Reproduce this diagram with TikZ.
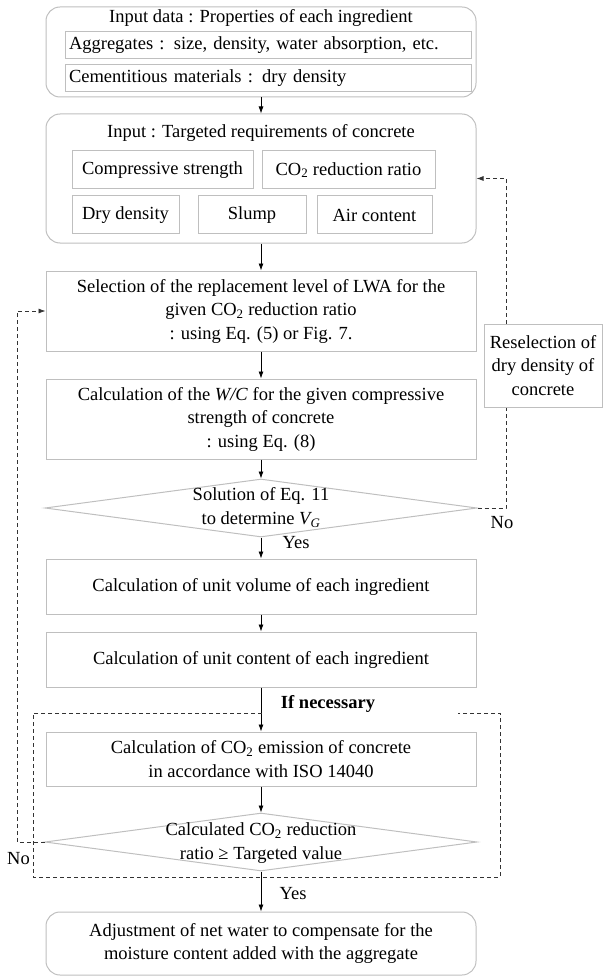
\documentclass[tikz,border=0pt]{standalone}
\usepackage{fontspec}
\setmainfont{Liberation Serif}
\usetikzlibrary{shapes.geometric,arrows.meta}
\definecolor{FlowGray}{HTML}{BFBFBF}
\definecolor{FlowDash}{HTML}{333333}

\begin{document}
\begin{tikzpicture}[x=1pt,y=-1pt,font=\fontsize{18.5}{23.5}\selectfont,
  box/.style={draw=FlowGray,line width=1pt,align=center,minimum width=430,inner sep=0},
  rbox/.style={box,rounded corners=14pt},
  sbox/.style={draw=FlowGray,line width=1pt,minimum height=38,inner sep=0},
  dia/.style={draw=FlowGray,line width=1pt,diamond,minimum width=432,minimum height=58,inner sep=0},
  tip/.style={-{Latex[length=7pt,width=5pt]}},
  arr/.style={tip,line width=0.8pt},
  dsh/.style={dash pattern=on 4pt off 3pt,line width=0.8pt,FlowDash}]
  \useasboundingbox (0,0) rectangle (603,976);
  \node[rbox,minimum height=90] (data) at (261,52) {};
  \node (datat) at (261,18) {Input data : Properties of each ingredient};
  \node[sbox,minimum width=406,minimum height=27,text width=398,align=left] (agg) at (268,45.5) {Aggregates : size, density, water absorption, etc.};
  \node[sbox,minimum width=406,minimum height=27,text width=398,align=left] (cem) at (268,78.5) {Cementitious materials : dry density};
  \node[rbox,minimum height=129] (req) at (261,178.5) {};
  \node (reqt) at (261,133) {Input : Targeted requirements of concrete};
  \node[sbox,minimum width=181] (comp) at (162.5,170) {Compressive strength};
  \node[sbox,minimum width=173] (co2r) at (348.5,170) {CO\textsubscript{2} reduction ratio};
  \node[sbox,minimum width=107] (dry) at (125.5,215) {Dry density};
  \node[sbox,minimum width=108] (slump) at (252,215) {Slump};
  \node[sbox,minimum width=115] (air) at (374.5,215) {Air content};
  \node[box,minimum height=80] (sel) at (261,311) {Selection of the replacement level of LWA for the\\given CO\textsubscript{2} reduction ratio\\: using Eq. (5) or Fig. 7.};
  \node[box,minimum height=80] (wc) at (261,419) {Calculation of the \textit{W/C} for the given compressive\\strength of concrete\\: using Eq. (8)};
  \node[dia] (d1) at (261,508) {};
  \node[align=center] (d1t) at (261,507.5) {Solution of Eq. 11\\to determine \textit{V\textsubscript{G}}};
  \node[box,minimum height=55] (vol) at (261,586.5) {Calculation of unit volume of each ingredient};
  \node[box,minimum height=55] (cont) at (261,659.5) {Calculation of unit content of each ingredient};
  \node[box,minimum height=54] (emis) at (261,759) {Calculation of CO\textsubscript{2} emission of concrete\\in accordance with ISO 14040};
  \node[dia] (d2) at (261,842) {};
  \node[align=center] (d2t) at (261,843) {Calculated CO\textsubscript{2} reduction\\ratio ≥ Targeted value};
  \node[rbox,minimum height=63] (adj) at (261,943.5) {Adjustment of net water to compensate for the\\moisture content added with the aggregate};
  \node[draw=FlowGray,line width=1pt,minimum width=118,minimum height=83,align=center,inner sep=0] (resel) at (543,365.5) {Reselection of\\dry density of\\concrete};
  \node (yes1) at (296,543) {Yes};
  \node (no1) at (502,523) {No};
  \node (ifn) at (328,704) {\bfseries If necessary};
  \node (no2) at (18.5,859) {No};
  \node (yes2) at (293,894) {Yes};
  \foreach \a/\b in {data/req,req/sel,sel/wc,wc/d1,d1/vol,vol/cont,cont/emis,emis/d2,d2/adj}
    \draw[arr] (\a) -- (\b);
  \draw[dsh] (262,713) -- (33,713) -- (33,877) -- (500,877) -- (500,713) -- (458,713);
  \coordinate (rx) at (506,508);
  \coordinate (lx) at (17,842);
  \draw[dsh] (d1.east) -- (rx) -- (rx |- resel.south);
  \draw[dsh,tip] (rx |- resel.north) |- (req.east);
  \draw[dsh,tip] (d2.west) -- (lx) |- (sel.west);
\end{tikzpicture}
\end{document}
